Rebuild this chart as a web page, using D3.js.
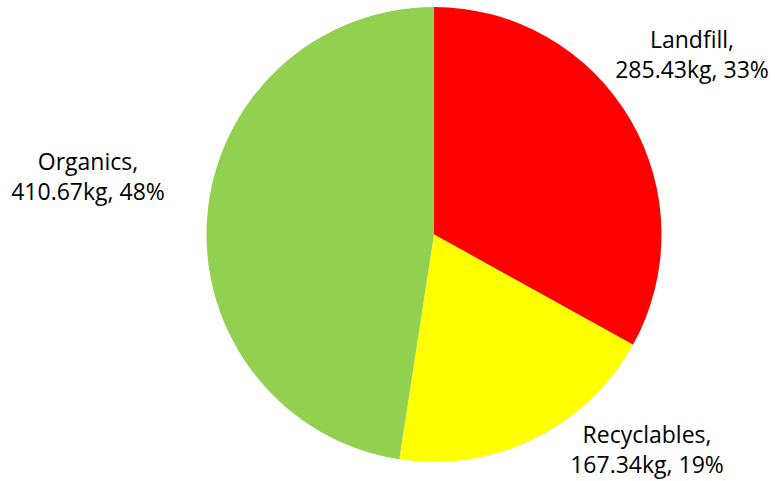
<!DOCTYPE html>
<html>
<head>
<meta charset="utf-8">
<style>
  html, body { margin: 0; padding: 0; background: #fff; }
</style>
</head>
<body>
<svg width="775" height="481" font-family="'Open Sans', sans-serif" font-size="23" text-anchor="middle"></svg>
<script src="https://cdn.jsdelivr.net/npm/d3@7"></script>
<script>

var categories = ["Landfill", "Recyclables", "Organics"];
var weights = [285.43, 167.34, 410.67];
var colors = ["#ff0000", "#ffff00", "#92d050"];

// label anchor points (centre of the two-line label, first baseline)
var labelPos = [[692, 48], [647, 443], [88, 170]];

var svg = d3.select("svg"),
    cx = 434,
    cy = 234.5,
    radius = 227.5;

var total = d3.sum(weights);
var format = d3.format(".2f");

var data = categories.map(function(c, i) {
  return {name: c, value: weights[i], color: colors[i], pos: labelPos[i]};
});

var pie = d3.pie()
    .sort(null)
    .value(function(d) { return d.value; });

var arc = d3.arc()
    .innerRadius(0)
    .outerRadius(radius);

var g = svg.append("g")
    .attr("transform", "translate(" + cx + "," + cy + ")");

g.selectAll("path")
  .data(pie(data))
  .enter().append("path")
    .attr("d", arc)
    .attr("fill", function(d) { return d.data.color; });

var label = svg.selectAll(".label")
  .data(data)
  .enter().append("text")
    .attr("class", "label")
    .attr("fill", "#000");

label.append("tspan")
    .attr("x", function(d) { return d.pos[0]; })
    .attr("y", function(d) { return d.pos[1]; })
    .text(function(d) { return d.name + ","; });

label.append("tspan")
    .attr("x", function(d) { return d.pos[0]; })
    .attr("y", function(d) { return d.pos[1] + 30; })
    .text(function(d) { return format(d.value) + "kg, " + Math.round(d.value / total * 100) + "%"; });

</script>
</body>
</html>
